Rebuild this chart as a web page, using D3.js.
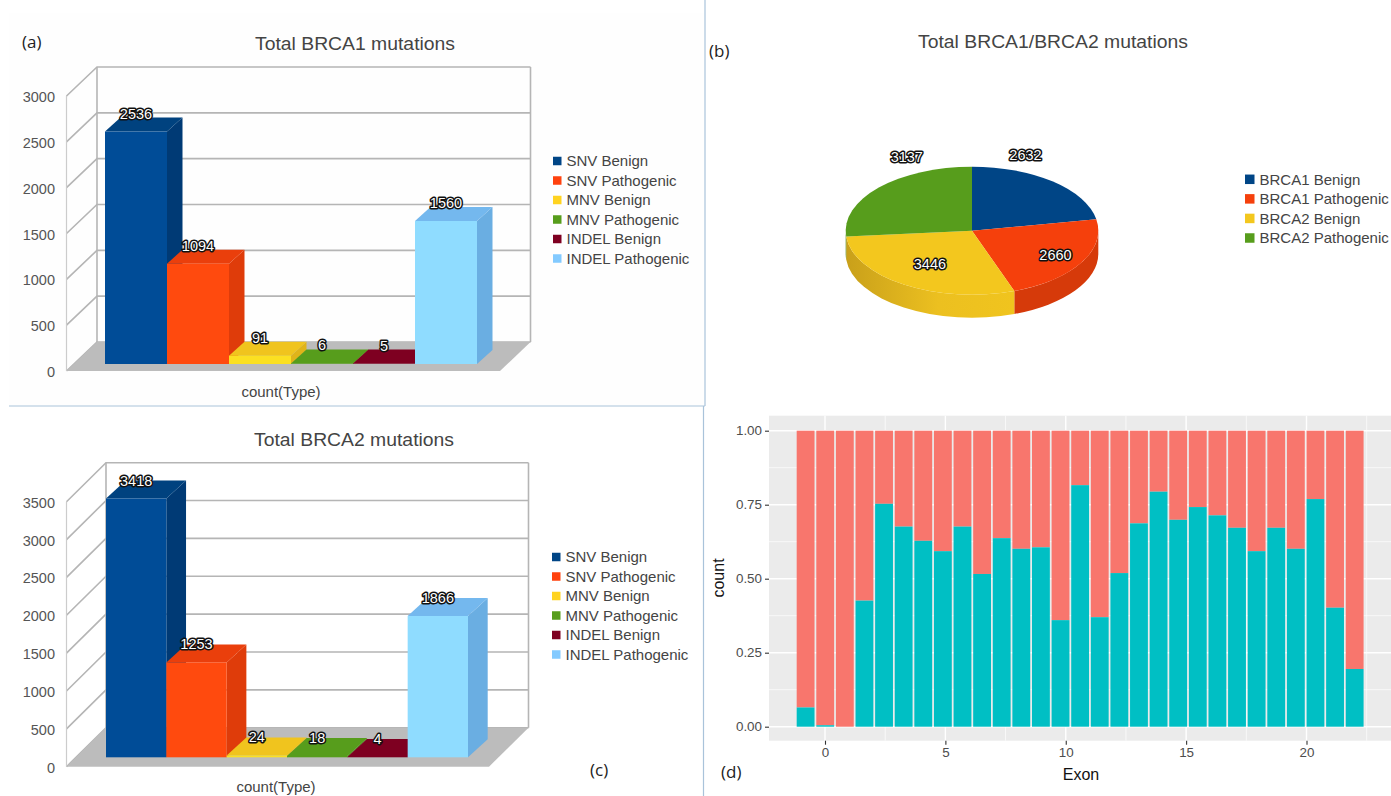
<!DOCTYPE html>
<html>
<head>
<meta charset="utf-8">
<script src="https://cdn.jsdelivr.net/npm/d3@7"></script>
<style>
  html, body { margin: 0; padding: 0; background: #fff; }
  svg { display: block; }
  text { font-family: "Liberation Sans", sans-serif; }
  .value-label { fill: #fff; stroke: #111; stroke-width: 3px; paint-order: stroke; stroke-linejoin: round; font-size: 14.5px; text-anchor: middle; dominant-baseline: central; }
  .panel-tag { font-family: "Open Sans", sans-serif; font-size: 17px; fill: #222; }
</style>
</head>
<body>
<svg id="chart" width="1391" height="796"></svg>
<script>
// (a) BRCA1 mutations
const mutationTypes = ['SNV Benign', 'SNV Pathogenic', 'MNV Benign', 'MNV Pathogenic', 'INDEL Benign', 'INDEL Pathogenic']
const brca1Counts = [2536, 1094, 91, 6, 5, 1560]
const brca1Ticks = [0, 500, 1000, 1500, 2000, 2500, 3000]

// (c) BRCA2 mutations
const brca2Counts = [3418, 1253, 24, 18, 4, 1866]
const brca2Ticks = [0, 500, 1000, 1500, 2000, 2500, 3000, 3500]

// (b) pie
const pieCategories = ['BRCA1 Benign', 'BRCA1 Pathogenic', 'BRCA2 Benign', 'BRCA2 Pathogenic']
const pieCounts = [2632, 2660, 3446, 3137]

// (d) share of the teal class in each exon bin, bins run left to right
const exonShare = [0.065, 0.005, 0, 0.426, 0.753, 0.676, 0.628, 0.593, 0.676, 0.516, 0.637, 0.601, 0.606, 0.36, 0.816,
  0.37, 0.519, 0.687, 0.794, 0.699, 0.742, 0.714, 0.672, 0.593, 0.672, 0.601, 0.769, 0.402, 0.195]
const exonTicks = [0, 5, 10, 15, 20]
const shareTicks = [0, 0.25, 0.5, 0.75, 1]

const barFront = ['#004c97', '#ff4a0e', '#fbe022', '#579d1c', '#7e0021', '#8fdcff']
const barTop = ['#00427f', '#ea3f0c', '#f0c41e', '#579d1c', '#7e0021', '#74b8ee']
const barSide = ['#003a75', '#df3c0a', '#e0b41a', '#4c8a18', '#6e001c', '#6aaee2']
const legendColors = ['#004586', '#ff420e', '#ffd320', '#579d1c', '#7e0021', '#83caff']

const svg = d3.select('#chart')

// separators between the panels
svg.append('rect').attr('x', 9).attr('y', 13).attr('width', 696).attr('height', 393).attr('fill', '#fefefe')
const rule = '#a9c3da'
svg.append('line').attr('x1', 705).attr('x2', 705).attr('y1', 0).attr('y2', 406).attr('stroke', rule).attr('stroke-width', 1.2)
svg.append('line').attr('x1', 703.5).attr('x2', 703.5).attr('y1', 406).attr('y2', 796).attr('stroke', rule).attr('stroke-width', 1.2)
svg.append('line').attr('x1', 9).attr('x2', 705).attr('y1', 406).attr('y2', 406).attr('stroke', rule).attr('stroke-width', 1.2)

function title(text, x, y, width) {
  svg.append('text').attr('x', x).attr('y', y).attr('text-anchor', 'middle')
    .attr('textLength', width).attr('lengthAdjust', 'spacingAndGlyphs')
    .attr('font-size', 17.5).attr('fill', '#444').text(text)
}

function legend(names, colors, x, rows, size) {
  const g = svg.append('g')
  names.forEach((name, i) => {
    g.append('rect').attr('x', x).attr('y', rows(i) - size / 2).attr('width', size).attr('height', size).attr('fill', colors[i])
    g.append('text').attr('x', x + size + 5).attr('y', rows(i)).attr('dy', '0.35em')
      .attr('font-size', 15).attr('fill', '#444').text(name)
  })
}

function poly(g, pts, fill) {
  g.append('path').attr('d', d3.line()(pts) + 'Z').attr('fill', fill)
}

function bars3d(c) {
  const g = svg.append('g')
  const grey = '#b5b5b5'
  const y = d3.scaleLinear().domain([0, c.ticks[c.ticks.length - 1]]).range([c.y0, c.y0 - c.h])
  const x = d3.scaleBand().domain(d3.range(c.values.length)).range([c.barX0, c.barX1])
  const rightBack = c.floorRight + c.wallDx

  // walls and grid
  c.ticks.forEach((t) => {
    g.append('path').attr('fill', 'none').attr('stroke', grey).attr('stroke-width', 1.6)
      .attr('d', d3.line()([[c.x0, y(t)], [c.x0 + c.wallDx, y(t) - c.wallDy], [rightBack, y(t) - c.wallDy]]))
    g.append('text').attr('x', 55).attr('y', y(t) + 1).attr('dy', '0.35em').attr('text-anchor', 'end')
      .attr('font-size', 14.5).attr('fill', '#555').text(t)
  })
  const top = y(c.ticks[c.ticks.length - 1])
  g.append('line').attr('x1', c.x0).attr('x2', c.x0).attr('y1', c.y0).attr('y2', top).attr('stroke', '#ccc').attr('stroke-width', 1.2)
  g.append('line').attr('x1', c.x0 + c.wallDx).attr('x2', c.x0 + c.wallDx).attr('y1', c.y0 - c.wallDy).attr('y2', top - c.wallDy).attr('stroke', grey).attr('stroke-width', 1.6)
  g.append('line').attr('x1', rightBack).attr('x2', rightBack).attr('y1', c.y0 - c.wallDy).attr('y2', top - c.wallDy).attr('stroke', grey).attr('stroke-width', 1.6)

  // floor
  poly(g, [[c.x0, c.y0], [c.x0 + c.wallDx, c.y0 - c.wallDy], [rightBack, c.y0 - c.wallDy], [c.floorRight, c.y0]], '#bcbcbc')

  // bars go left to right so the next front covers the previous side
  const lift = c.y0 - c.barY
  c.values.forEach((v, i) => {
    const l = x(i), r = x(i) + x.bandwidth(), t = y(v) - lift, b = c.barY
    poly(g, [[r, b], [r + c.depthDx, b - c.depthDy], [r + c.depthDx, t - c.depthDy], [r, t]], barSide[i])
    poly(g, [[l, t], [l + c.depthDx, t - c.depthDy], [r + c.depthDx, t - c.depthDy], [r, t]], barTop[i])
    g.append('rect').attr('x', l).attr('y', t).attr('width', r - l).attr('height', b - t).attr('fill', barFront[i])
  })
  c.values.forEach((v, i) => {
    g.append('text').attr('class', 'value-label')
      .attr('x', x(i) + x.bandwidth() / 2)
      .attr('y', y(v) - lift - c.depthDy - c.labelGap)
      .text(v)
  })

  g.append('text').attr('x', c.xTitleX).attr('y', c.xTitleY).attr('text-anchor', 'middle')
    .attr('font-size', 15).attr('fill', '#444').text('count(Type)')
}

title('Total BRCA1 mutations', 355, 50, 200)
bars3d({ values: brca1Counts, ticks: brca1Ticks, x0: 66.5, y0: 371, h: 275, wallDx: 30.5, wallDy: 29, floorRight: 500,
  barX0: 105, barX1: 477, barY: 364, depthDx: 15.5, depthDy: 14, labelGap: 4, xTitleX: 281, xTitleY: 397 })
legend(mutationTypes, legendColors, 553, d3.scaleLinear().domain([0, 5]).range([161, 258.5]), 8.5)

title('Total BRCA2 mutations', 354, 446, 200)
bars3d({ values: brca2Counts, ticks: brca2Ticks, x0: 66.5, y0: 766.7, h: 265, wallDx: 39.5, wallDy: 39, floorRight: 489,
  barX0: 106, barX1: 468, barY: 757.3, depthDx: 19.7, depthDy: 18, labelGap: 0, xTitleX: 276, xTitleY: 792 })
legend(mutationTypes, legendColors, 552, d3.scaleLinear().domain([0, 5]).range([557, 654.5]), 8.5)

// (b) tilted pie: an arc squashed vertically plus a side wall for the near half
title('Total BRCA1/BRCA2 mutations', 1053, 48, 270)
const pieColors = ['#004586', '#f5400c', '#f3c71e', '#579d1c']
const pieSide = ['#003a70', '#d63a0a', '#e0b31c', '#4a8618']
const pieCx = 972, pieCy = 230.7, pieRx = 126.3, pieRy = 64, pieDepth = 23
const pieSlices = d3.pie().sort(null)(pieCounts)
const pieArc = d3.arc().innerRadius(0).outerRadius(pieRx)
const pieG = svg.append('g')

const sideGrad = svg.append('defs').append('linearGradient').attr('id', 'yellowSide')
sideGrad.append('stop').attr('offset', '0').attr('stop-color', '#c9a01a')
sideGrad.append('stop').attr('offset', '0.55').attr('stop-color', '#ecc020')
sideGrad.append('stop').attr('offset', '1').attr('stop-color', '#f0c41e')

const rimPoint = (a) => [pieCx + pieRx * Math.sin(a), pieCy - pieRy * Math.cos(a)]
pieSlices.forEach((s, i) => {
  const a0 = Math.max(s.startAngle, Math.PI / 2)
  const a1 = Math.min(s.endAngle, Math.PI * 3 / 2)
  if (a1 <= a0) return
  const [x0, y0] = rimPoint(a0)
  const [x1, y1] = rimPoint(a1)
  pieG.append('path')
    .attr('fill', i === 2 ? 'url(#yellowSide)' : pieSide[i])
    .attr('d', `M${x0},${y0}A${pieRx},${pieRy} 0 0 1 ${x1},${y1}L${x1},${y1 + pieDepth}A${pieRx},${pieRy} 0 0 0 ${x0},${y0 + pieDepth}Z`)
})
pieG.selectAll('path.top').data(pieSlices).enter().append('path')
  .attr('class', 'top')
  .attr('transform', `translate(${pieCx},${pieCy}) scale(1,${pieRy / pieRx})`)
  .attr('d', pieArc)
  .attr('fill', (d, i) => pieColors[i])

// label offsets along the slice's middle direction, in rim units
const pieLabelReach = [[0.66, 1.54], [0.764, 0.76], [0.617, 0.62], [0.7, 1.71]]
pieSlices.forEach((s, i) => {
  const mid = (s.startAngle + s.endAngle) / 2
  svg.append('text').attr('class', 'value-label')
    .attr('x', pieCx + pieRx * Math.sin(mid) * pieLabelReach[i][0])
    .attr('y', pieCy - pieRy * Math.cos(mid) * pieLabelReach[i][1])
    .text(pieCounts[i])
})
legend(pieCategories, pieColors, 1245, d3.scaleLinear().domain([0, 3]).range([179.3, 238]), 9.5)

// (d) ggplot style filled histogram
const panel = { left: 769, right: 1391, top: 415.7, bottom: 740.7 }
const ex = d3.scaleLinear().domain([0, 20]).range([825, 1306.5])
const sy = d3.scaleLinear().domain([0, 1]).range([726.7, 430.7])
const binStart = -1.176, binWidth = 0.8145
const dG = svg.append('g')
dG.append('rect').attr('x', panel.left).attr('y', panel.top).attr('width', panel.right - panel.left).attr('height', panel.bottom - panel.top).attr('fill', '#ebebeb')

shareTicks.slice(0, -1).forEach((t) => {
  dG.append('line').attr('x1', panel.left).attr('x2', panel.right).attr('y1', sy(t + 0.125)).attr('y2', sy(t + 0.125)).attr('stroke', '#fff').attr('stroke-width', 0.7)
})
exonTicks.concat([25]).forEach((t) => {
  dG.append('line').attr('y1', panel.top).attr('y2', panel.bottom).attr('x1', ex(t - 2.5)).attr('x2', ex(t - 2.5)).attr('stroke', '#fff').attr('stroke-width', 0.7)
})
shareTicks.forEach((t) => {
  dG.append('line').attr('x1', panel.left).attr('x2', panel.right).attr('y1', sy(t)).attr('y2', sy(t)).attr('stroke', '#fff').attr('stroke-width', 1.4)
})
exonTicks.forEach((t) => {
  dG.append('line').attr('y1', panel.top).attr('y2', panel.bottom).attr('x1', ex(t)).attr('x2', ex(t)).attr('stroke', '#fff').attr('stroke-width', 1.4)
})

const binW = ex(binWidth) - ex(0)
dG.selectAll('rect.red').data(exonShare).enter().append('rect')
  .attr('x', (d, i) => ex(binStart + i * binWidth))
  .attr('width', binW * 0.91)
  .attr('y', sy(1))
  .attr('height', (d) => sy(d) - sy(1))
  .attr('fill', '#f8766d')
dG.selectAll('rect.teal').data(exonShare).enter().append('rect')
  .attr('x', (d, i) => ex(binStart + i * binWidth))
  .attr('width', binW * 0.91)
  .attr('y', (d) => sy(d))
  .attr('height', (d) => sy(0) - sy(d))
  .attr('fill', '#00bfc4')

const styleAxis = (a) => {
  a.select('.domain').remove()
  a.selectAll('.tick line').attr('stroke', '#333').attr('stroke-width', 1.1)
  a.selectAll('.tick text').attr('font-family', '"Liberation Sans", sans-serif').attr('font-size', 13.4).attr('fill', '#4d4d4d')
}
dG.append('g').attr('transform', `translate(${panel.left},0)`)
  .call(d3.axisLeft(sy).tickValues(shareTicks).tickFormat(d3.format('.2f')).tickSize(4).tickPadding(3))
  .call(styleAxis)
dG.append('g').attr('transform', `translate(0,${panel.bottom})`)
  .call(d3.axisBottom(ex).tickValues(exonTicks).tickSize(4).tickPadding(3))
  .call(styleAxis)
dG.append('text').attr('x', 1081).attr('y', 780).attr('text-anchor', 'middle').attr('font-size', 16).attr('fill', '#111').text('Exon')
dG.append('text').attr('transform', 'translate(724,578) rotate(-90)').attr('text-anchor', 'middle').attr('font-size', 16).attr('fill', '#111').text('count')

const tags = [['(a)', 22, 48], ['(b)', 709, 57], ['(c)', 590, 776], ['(d)', 721, 778]]
tags.forEach((t) => {
  svg.append('text').attr('class', 'panel-tag').attr('x', t[1]).attr('y', t[2]).text(t[0])
})
</script>
</body>
</html>
